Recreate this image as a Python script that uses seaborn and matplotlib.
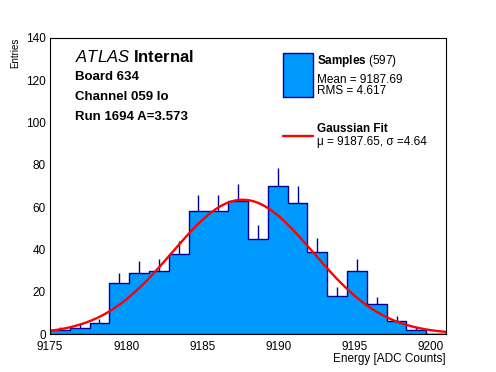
import matplotlib

matplotlib.use("Agg")
import matplotlib.pyplot as plt
import numpy as np
import pandas as pd
import seaborn as sns
from matplotlib.lines import Line2D
from matplotlib.patches import Rectangle
from matplotlib.ticker import MultipleLocator

# histogram of pedestal samples
BIN_LOW = 9175.0
BIN_WIDTH = 1.3
COUNTS = [2, 3, 5, 24, 29, 30, 38, 58, 58, 63, 45, 70, 62, 39, 18, 30, 14, 6, 2, 0]

# fit / stats shown in the legend
FIT_MU = 9187.65
FIT_SIGMA = 4.64
FIT_CONST = 63.5
N_SAMPLES = 597
MEAN = 9187.69
RMS = 4.617

BOARD = "634"
CHANNEL = "059 lo"
RUN = "1694"
AMPLITUDE = "3.573"

FILL = "#0099ff"
EDGE = "#000099"
FONT = ["Liberation Sans", "DejaVu Sans"]


def main() -> None:
    sns.set_style("white")
    plt.rcParams.update({
        "font.family": FONT,
        "axes.linewidth": 0.8,
        "axes.edgecolor": "black",
        "text.color": "black",
        "axes.labelcolor": "black",
        "xtick.color": "black",
        "ytick.color": "black",
        "mathtext.fontset": "custom",
        "mathtext.rm": "Liberation Sans",
        "mathtext.it": "Liberation Sans:italic",
        "mathtext.bf": "Liberation Sans:bold",
    })

    edges = BIN_LOW + BIN_WIDTH * np.arange(len(COUNTS) + 1)
    centers = edges[:-1] + BIN_WIDTH / 2
    hist = pd.DataFrame({"energy": centers, "entries": COUNTS})

    fig = plt.figure(figsize=(4.96, 3.72), dpi=100)
    ax = fig.add_axes([0.1008, 0.102, 0.7984, 0.796])

    sns.histplot(
        data=hist,
        x="energy",
        weights="entries",
        bins=edges.tolist(),
        element="step",
        fill=True,
        facecolor=FILL,
        edgecolor=EDGE,
        linewidth=1.0,
        alpha=1,
        ax=ax,
    )
    has = hist["entries"] > 0
    ax.vlines(
        hist.loc[has, "energy"],
        hist.loc[has, "entries"],
        hist.loc[has, "entries"] + np.sqrt(hist.loc[has, "entries"]),
        color=EDGE,
        linewidth=1.0,
    )

    xs = np.linspace(edges[0], edges[-1], 400)
    fit = FIT_CONST * np.exp(-0.5 * ((xs - FIT_MU) / FIT_SIGMA) ** 2)
    sns.lineplot(x=xs, y=fit, color="red", linewidth=1.7, ax=ax)

    ax.set_xlim(edges[0], edges[-1])
    ax.set_ylim(0, 140)
    ax.xaxis.set_major_locator(MultipleLocator(5))
    ax.xaxis.set_minor_locator(MultipleLocator(1))
    ax.yaxis.set_major_locator(MultipleLocator(20))
    ax.yaxis.set_minor_locator(MultipleLocator(5))
    ax.tick_params(which="both", direction="in", top=False, right=False, width=0.8, labelsize=8.5)
    ax.tick_params(which="major", length=6, pad=5)
    ax.tick_params(which="minor", length=3)
    ax.tick_params(axis="y", which="major", pad=3)
    ax.set_xlabel("Energy [ADC Counts]", loc="right", fontsize=8.5, labelpad=0)
    ax.set_ylabel("Entries", loc="top", fontsize=7, labelpad=4)

    # top-left labels
    ax.text(0.063, 0.936, r"$\it{ATLAS}$ $\bf{Internal}$", transform=ax.transAxes,
            fontsize=12, va="center")
    for y, line in [(0.868, f"Board {BOARD}"), (0.801, f"Channel {CHANNEL}"),
                    (0.733, f"Run {RUN} A={AMPLITUDE}")]:
        ax.text(0.063, y, line, transform=ax.transAxes, fontsize=9.5,
                fontweight="bold", va="center")

    # legend box
    ax.add_patch(Rectangle((0.588, 0.801), 0.0758, 0.149, transform=ax.transAxes,
                           facecolor=FILL, edgecolor=EDGE, linewidth=1.0))
    ax.text(0.674, 0.922, r"$\bf{Samples}$" + f" ({N_SAMPLES})", transform=ax.transAxes,
            fontsize=8.5, va="center")
    ax.text(0.674, 0.858, f"Mean = {MEAN:.2f}", transform=ax.transAxes, fontsize=8.5, va="center")
    ax.text(0.674, 0.821, f"RMS = {RMS:.3f}", transform=ax.transAxes, fontsize=8.5, va="center")

    ax.add_line(Line2D([0.588, 0.663], [0.669, 0.669], transform=ax.transAxes,
                       color="red", linewidth=1.7))
    ax.text(0.674, 0.693, "Gaussian Fit", transform=ax.transAxes, fontsize=8.5,
            fontweight="bold", va="center")
    ax.text(0.674, 0.649, f"\u03bc = {FIT_MU:.2f}, \u03c3 ={FIT_SIGMA:.2f}",
            transform=ax.transAxes, fontsize=8.5, va="center")

    fig.savefig("out.png", dpi=100)
    plt.close(fig)


if __name__ == "__main__":
    main()
